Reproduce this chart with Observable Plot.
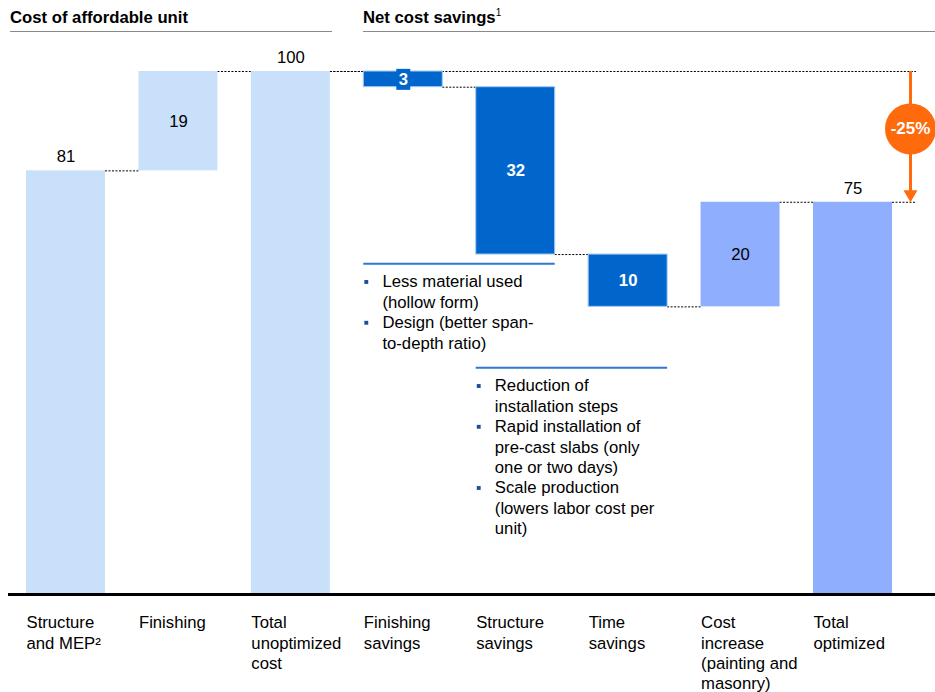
<!DOCTYPE html>
<html><head><meta charset="utf-8">
<script src="https://cdn.jsdelivr.net/npm/d3@7"></script>
<script src="https://cdn.jsdelivr.net/npm/@observablehq/plot@0.6"></script>
<style>
body{margin:0;background:#fff;font-family:"Liberation Sans",Arial,sans-serif;}
#wrap{position:relative;width:935px;height:692px;overflow:hidden}
.hdr{position:absolute;top:8px;font-weight:bold;font-size:16.7px;line-height:20px;color:#000;white-space:nowrap}
.hline{position:absolute;top:31px;height:0;border-top:1px solid #8a8a8a}
.hdr sup{font-size:10px;font-weight:normal;vertical-align:7px;line-height:0}
</style></head><body>
<div id="wrap">
<div class="hdr" style="left:10px">Cost of affordable unit</div>
<div class="hline" style="left:10px;width:322px"></div>
<div class="hdr" style="left:363px">Net cost savings<sup>1</sup></div>
<div class="hline" style="left:363px;width:572px"></div>
<div id="chart"></div>
</div>
<script>
// ---- data ----
const categories = ["Structure\nand MEP²", "Finishing", "Total\nunoptimized\ncost", "Finishing\nsavings",
  "Structure\nsavings", "Time\nsavings", "Cost\nincrease\n(painting and\nmasonry)", "Total\noptimized"];
const values = [81, 19, 100, -3, -32, -10, 20, 75];
const isTotal = [true, false, true, false, false, false, false, true];
const kinds = ["unoptimized", "unoptimized", "unoptimized", "saving", "saving", "saving", "optimized", "optimized"];
const valueLabels = ["81", "19", "100", "3", "32", "10", "20", "75"];
const changeLabel = "-25%";
const bulletGroupBars = [3, 4];
const bulletTexts = [
  "Less material used\n(hollow form)",
  "Design (better span-\nto-depth ratio)",
  "Reduction of\ninstallation steps",
  "Rapid installation of\npre-cast slabs (only\none or two days)",
  "Scale production\n(lowers labor cost per\nunit)"
];
const bulletGroup = [0, 0, 1, 1, 1];

// ---- styles ----
const palette = {unoptimized: "#c8e0fa", saving: "#0066cc", optimized: "#90aefe"};
const orange = "#ff6a0d";
const font = "Liberation Sans, Arial, sans-serif";
const fs = 16.7;
const hw = 0.3513;            // half bar width in band units
const lineStep = 3.9;         // one text line in y units
const groupTop = [59.85, 39.96];
const labelBox = {draw(ctx) { ctx.rect(-7, -10.5, 14, 21); }};

// ---- derived rows ----
let run = 0;
const rows = values.map((v, i) => {
  let y1, y2;
  if (isTotal[i]) { y1 = 0; y2 = v; run = v; }
  else { y1 = run; y2 = run + v; run += v; }
  return {i, cat: categories[i], v, y1, y2, run, kind: kinds[i], label: valueLabels[i]};
});
const connectors = rows.slice(0, -1).map(r => ({x1: r.i + hw, x2: r.i + 1 - hw, y: r.run}));
const unopt = rows[2].run, opt = rows[7].run;
const arrowX = 7 + hw + 0.16;
const refEnd = 7 + hw + 0.213;
const refs = [{x1: 2 + hw, x2: refEnd, y: unopt}, {x1: 7 + hw, x2: refEnd, y: opt}];

const lineCount = {0: 0, 1: 0};
const bullets = bulletTexts.map((t, k) => {
  const g = bulletGroup[k];
  const y = groupTop[g] - lineCount[g] * lineStep;
  lineCount[g] += t.split("\n").length;
  return {x: bulletGroupBars[g] - hw, y, text: t};
});
const groupRules = bulletGroupBars.map((b, g) => ({x1: b - hw, x2: b + 1 + hw, y: groupTop[g] + 3.4}));

const above = rows.filter(r => isTotal[r.i]);
const inside = rows.filter(r => !isTotal[r.i]);
const insideDark = inside.filter(r => r.kind === "saving" && Math.abs(r.v) >= 5);
const insideHalo = inside.filter(r => r.kind === "saving" && Math.abs(r.v) < 5);
const insideLight = inside.filter(r => r.kind !== "saving");
const mid = d => (d.y1 + d.y2) / 2;

const chart = Plot.plot({
  width: 935, height: 692,
  marginTop: 71, marginBottom: 98, marginLeft: 8, marginRight: 0,
  x: {type: "linear", domain: [0, categories.length - 1], range: [65.5, 852.5], axis: null},
  y: {domain: [0, 100], range: [594, 71], axis: null},
  color: {type: "identity"},
  style: {fontFamily: font, fontSize: fs + "px", background: "transparent", overflow: "visible"},
  marks: [
    Plot.ruleY(refs, {x1: "x1", x2: "x2", y: "y", stroke: "#000", strokeWidth: 1, strokeDasharray: "2,1.5"}),
    Plot.ruleY(connectors, {x1: "x1", x2: "x2", y: "y", stroke: "#000", strokeWidth: 1, strokeDasharray: "2,1.5"}),
    Plot.rectY(rows, {x1: d => d.i - hw, x2: d => d.i + hw, y1: "y1", y2: "y2",
      fill: d => palette[d.kind], stroke: d => d.kind === "saving" ? "#a8caf2" : "none", strokeWidth: 1}),
    Plot.ruleY([0], {stroke: "#000", strokeWidth: 3}),
    // value labels
    Plot.text(above, {x: "i", y: "y2", text: "label", dy: -14, fontSize: fs, fill: "#000"}),
    Plot.text(insideLight, {x: "i", y: mid, text: "label", fontSize: fs, fill: "#000"}),
    Plot.text(insideDark, {x: "i", y: mid, text: "label", fontSize: fs, fontWeight: "bold", fill: "#fff"}),
    Plot.dot(insideHalo, {x: "i", y: mid, symbol: labelBox, r: 5, fill: palette.saving, stroke: "none"}),
    Plot.text(insideHalo, {x: "i", y: mid, text: "label", fontSize: fs, fontWeight: "bold", fill: "#fff"}),
    // category labels
    Plot.text(rows, {x: d => d.i - hw, y: 0, text: "cat", textAnchor: "start", lineAnchor: "top",
      dy: 19.2, fontSize: fs, lineHeight: 1.22, fill: "#000"}),
    // bullet annotations
    Plot.ruleY(groupRules, {x1: "x1", x2: "x2", y: "y", stroke: "#2a78d4", strokeWidth: 2}),
    Plot.dot(bullets, {x: "x", y: "y", dx: 2.5, dy: 0.5, symbol: "square", r: 2.2, fill: "#1f4e96", stroke: "none"}),
    Plot.text(bullets, {x: "x", y: "y", text: "text", dx: 18.6, dy: -8.5, textAnchor: "start", lineAnchor: "top",
      fontSize: fs, lineHeight: 1.22, fill: "#000"}),
    // change arrow
    Plot.ruleX([{x: arrowX, y1: unopt, y2: opt + 2}], {x: "x", y1: "y1", y2: "y2", stroke: orange, strokeWidth: 3}),
    Plot.dot([{x: arrowX, y: opt}], {x: "x", y: "y", symbol: "triangle", r: 5.2, rotate: 180, dy: -8, fill: orange, stroke: "none"}),
    Plot.dot([{x: arrowX, y: (unopt + opt) / 2}], {x: "x", y: "y", r: 25.5, dy: -8, fill: orange, stroke: "none"}),
    Plot.text([{x: arrowX, y: (unopt + opt) / 2}], {x: "x", y: "y", text: () => changeLabel, dy: -8,
      fontSize: 17, fontWeight: "bold", fill: "#fff"})
  ]
});
document.getElementById("chart").appendChild(chart);
</script>
</body></html>
